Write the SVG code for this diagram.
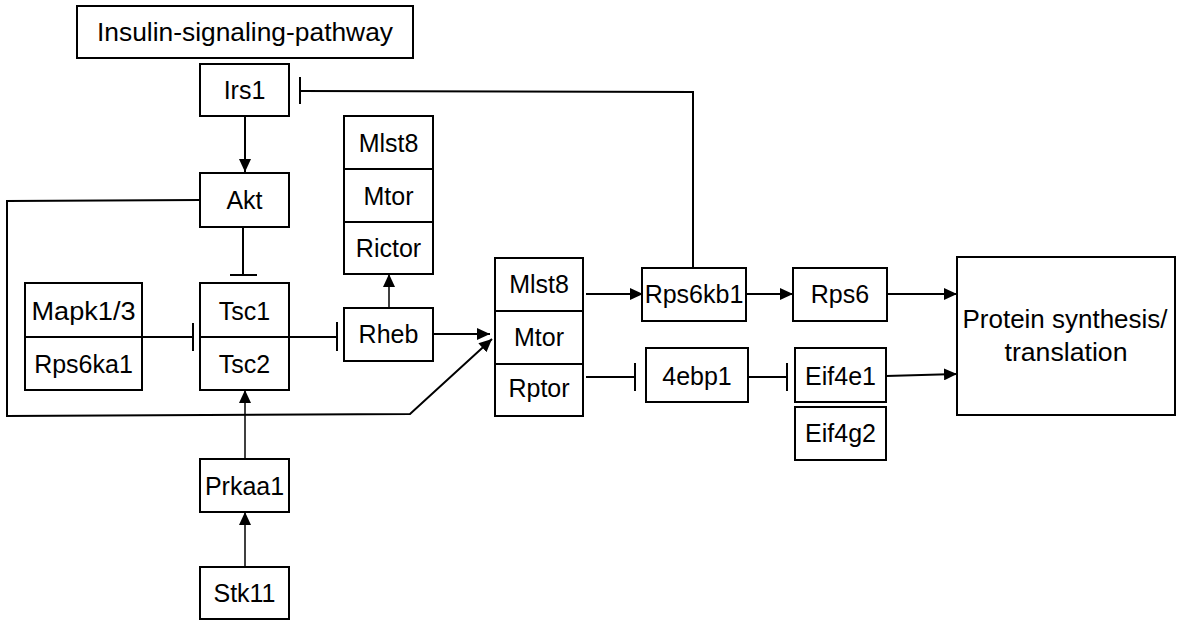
<svg xmlns="http://www.w3.org/2000/svg" width="1177" height="620" viewBox="0 0 1177 620">
<defs>
<style>
.box{fill:#fff;stroke:#000;stroke-width:2}
.div{stroke:#000;stroke-width:2}
.t{font-family:"Liberation Sans",Arial,sans-serif;font-size:25px;fill:#000;text-anchor:middle}
.c{fill:none;stroke:#000;stroke-width:2}
.thin{fill:none;stroke:#000;stroke-width:1.5}
</style>
<marker id="arr" markerUnits="userSpaceOnUse" markerWidth="14" markerHeight="12" refX="13" refY="6" orient="auto">
<path d="M0,0 L13,6 L0,12 Z" fill="#000"/>
</marker>
</defs>
<rect width="1177" height="620" fill="#fff"/>

<g id="connectors">
<path class="c" d="M245,117 V172" marker-end="url(#arr)"/>
<path class="c" d="M693,268 V92 L300,91"/>
<path class="c" d="M300,77 V104"/>
<path class="c" d="M243,227 V275"/>
<path class="c" d="M230,275 H257"/>
<path class="c" d="M200,200 L7,201 V416 L410,414 L492,339" marker-end="url(#arr)"/>
<path class="c" d="M142,337 H193"/>
<path class="c" d="M193,323 V351"/>
<path class="c" d="M289,337 H337"/>
<path class="c" d="M337,322 V351"/>
<path class="thin" d="M389,307 V274" marker-end="url(#arr)"/>
<path class="c" d="M433,334 H490" marker-end="url(#arr)"/>
<path class="thin" d="M245,459 V390" marker-end="url(#arr)"/>
<path class="thin" d="M245,566 V512" marker-end="url(#arr)"/>
<path class="c" d="M586,294 H643" marker-end="url(#arr)"/>
<path class="c" d="M746,294 H793" marker-end="url(#arr)"/>
<path class="c" d="M887,294 H957" marker-end="url(#arr)"/>
<path class="c" d="M886,376 L957,374" marker-end="url(#arr)"/>
<path class="c" d="M586,377 H635"/>
<path class="c" d="M635,363 V391"/>
<path class="c" d="M748,377 H787"/>
<path class="c" d="M787,363 V391"/>
</g>

<g id="insulin">
<rect class="box" x="77" y="6" width="336" height="52"/>
<text class="t" x="245" y="41" textLength="296" lengthAdjust="spacingAndGlyphs">Insulin-signaling-pathway</text>
</g>
<g id="irs1">
<rect class="box" x="200" y="64" width="89" height="52"/>
<text class="t" x="244.5" y="99">Irs1</text>
</g>
<g id="akt">
<rect class="box" x="200" y="173" width="89" height="54"/>
<text class="t" x="244.5" y="209">Akt</text>
</g>
<g id="mtorc2">
<rect class="box" x="344" y="116" width="89" height="158"/>
<line class="div" x1="344" y1="169" x2="433" y2="169"/>
<line class="div" x1="344" y1="222" x2="433" y2="222"/>
<text class="t" x="388.5" y="152">Mlst8</text>
<text class="t" x="388.5" y="205">Mtor</text>
<text class="t" x="388.5" y="257">Rictor</text>
</g>
<g id="mapk">
<rect class="box" x="25" y="283" width="117" height="107"/>
<line class="div" x1="25" y1="337" x2="142" y2="337"/>
<text class="t" x="83.5" y="320" textLength="104" lengthAdjust="spacingAndGlyphs">Mapk1/3</text>
<text class="t" x="83.5" y="373">Rps6ka1</text>
</g>
<g id="tsc">
<rect class="box" x="200" y="283" width="89" height="107"/>
<line class="div" x1="200" y1="337" x2="289" y2="337"/>
<text class="t" x="244.5" y="320">Tsc1</text>
<text class="t" x="244.5" y="373">Tsc2</text>
</g>
<g id="rheb">
<rect class="box" x="344" y="308" width="89" height="53"/>
<text class="t" x="388.5" y="343">Rheb</text>
</g>
<g id="prkaa1">
<rect class="box" x="200" y="459" width="89" height="53"/>
<text class="t" x="244.5" y="495">Prkaa1</text>
</g>
<g id="stk11">
<rect class="box" x="200" y="567" width="89" height="52"/>
<text class="t" x="244.5" y="602">Stk11</text>
</g>
<g id="mtorc1">
<rect class="box" x="495" y="258" width="88" height="158"/>
<line class="div" x1="495" y1="311" x2="583" y2="311"/>
<line class="div" x1="495" y1="364" x2="583" y2="364"/>
<text class="t" x="539" y="293">Mlst8</text>
<text class="t" x="539" y="346">Mtor</text>
<text class="t" x="539" y="397">Rptor</text>
</g>
<g id="rps6kb1">
<rect class="box" x="642" y="268" width="104" height="53"/>
<text class="t" x="694" y="303">Rps6kb1</text>
</g>
<g id="rps6">
<rect class="box" x="793" y="268" width="94" height="53"/>
<text class="t" x="840" y="303">Rps6</text>
</g>
<g id="ebp1">
<rect class="box" x="646" y="348" width="102" height="54"/>
<text class="t" x="697" y="385">4ebp1</text>
</g>
<g id="eif4e1">
<rect class="box" x="795" y="348" width="91" height="54"/>
<text class="t" x="840.5" y="385">Eif4e1</text>
</g>
<g id="eif4g2">
<rect class="box" x="795" y="407" width="91" height="53"/>
<text class="t" x="840.5" y="442">Eif4g2</text>
</g>
<g id="protein">
<rect class="box" x="957" y="257" width="218" height="158"/>
<text class="t" x="1065" y="328" textLength="205" lengthAdjust="spacingAndGlyphs">Protein synthesis/</text>
<text class="t" x="1066" y="361" textLength="123" lengthAdjust="spacingAndGlyphs">translation</text>
</g>
</svg>
